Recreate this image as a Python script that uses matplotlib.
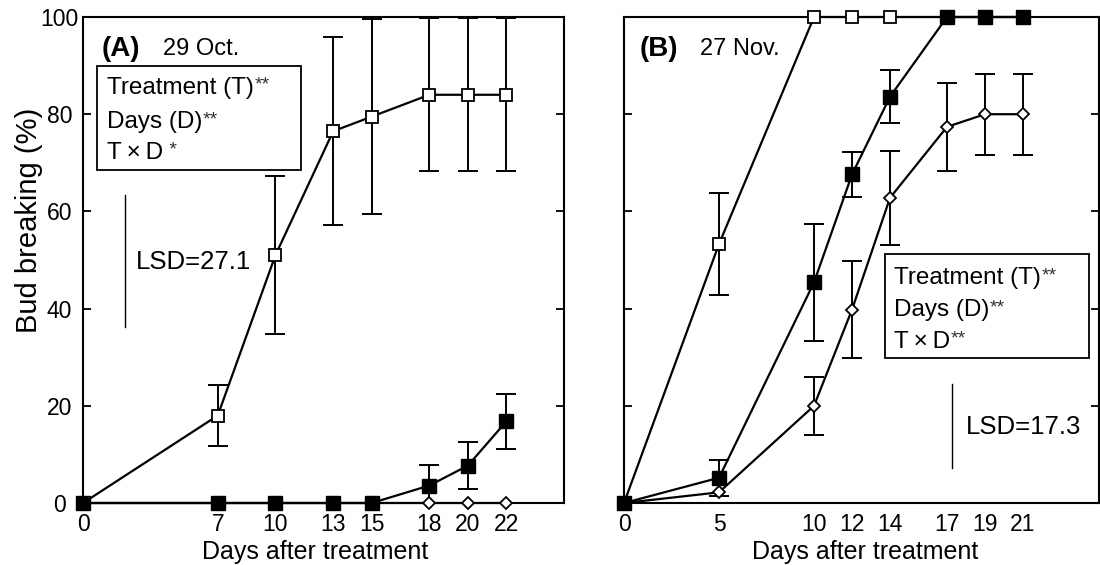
import matplotlib

matplotlib.use("Agg")
import matplotlib.pyplot as plt
from matplotlib.patches import Rectangle

plt.rcParams["font.family"] = ["Liberation Sans", "DejaVu Sans"]

# (A) 29 Oct.
days_a = [0, 7, 10, 13, 15, 18, 20, 22]
open_sq_a = [0, 18.0, 51.0, 76.5, 79.5, 84.0, 84.0, 84.0]
open_sq_a_err = [0, 6.3, 16.3, 19.3, 20.0, 15.7, 15.7, 15.7]
filled_sq_a = [0, 0, 0, 0, 0, 3.6, 7.7, 16.8]
filled_sq_a_err = [0, 0, 0, 0, 0, 4.2, 4.8, 5.6]
diamond_a = [0, 0, 0, 0, 0, 0, 0, 0]
diamond_a_err = [0, 0, 0, 0, 0, 0, 0, 0]

# (B) 27 Nov.
days_b = [0, 5, 10, 12, 14, 17, 19, 21]
open_sq_b = [0, 53.3, 100, 100, 100, 100, 100, 100]
open_sq_b_err = [0, 10.5, 0, 0, 0, 0, 0, 0]
filled_sq_b = [0, 5.2, 45.4, 67.6, 83.6, 100, 100, 100]
filled_sq_b_err = [0, 3.7, 12.0, 4.6, 5.4, 0, 0, 0]
diamond_b = [0, 2.2, 20.0, 39.8, 62.8, 77.4, 80.0, 80.0]
diamond_b_err = [0, 0, 6.0, 9.9, 9.7, 9.1, 8.3, 8.3]

stat_lines = ["Treatment (T)", "Days (D)", "T\u2009\u00d7\u2009D"]
stat_sups_a = ["**", "**", " *"]
stat_sups_b = ["**", "**", "**"]
lsd_a = 27.1
lsd_b = 17.3

STYLES = {
    "open_sq": dict(marker="s", ms=8, mfc="white", mec="black", mew=1.3, zorder=4),
    "filled_sq": dict(marker="s", ms=9.5, mfc="black", mec="black", mew=1.0, zorder=5),
    "diamond": dict(marker="D", ms=6.5, mfc="white", mec="black", mew=1.3, zorder=3),
}


def draw_series(ax, days, values, errors, style):
    pts = [(d, v, e) for d, v, e in zip(days, values, errors) if e > 0]
    if pts:
        xs, ys, es = zip(*pts)
        ax.errorbar(xs, ys, yerr=es, fmt="none", ecolor="black", elinewidth=1.4,
                    capsize=7, capthick=1.4, zorder=2)
    ax.plot(days, values, color="black", lw=1.6, clip_on=False, **STYLES[style])


def stat_box(ax, x0, y0, x1, y1, tx, ys, sups):
    ax.add_patch(Rectangle((x0, y0), x1 - x0, y1 - y0, fill=False, ec="black", lw=1.3, zorder=6))
    for line, sup, y in zip(stat_lines, sups, ys):
        t = ax.text(tx, y, line, fontsize=17.5, ha="left", va="center", zorder=7)
        ax.annotate(sup, xy=(1, 1.0), xycoords=t, xytext=(0.5, 0), textcoords="offset points",
                    fontsize=14, color="#333333", ha="left", va="top", zorder=7)


def style_axes(ax, days, show_ylabels):
    ax.set_xlim(0, 25)
    ax.set_ylim(0, 100)
    ax.set_xticks(days)
    ax.set_yticks([0, 20, 40, 60, 80, 100])
    ax.tick_params(axis="x", length=0, pad=7, labelsize=16.5)
    ax.tick_params(axis="y", direction="in", length=6, width=1.3, right=True,
                   labelleft=show_ylabels, labelsize=16.5, pad=17)
    for lab in ax.get_yticklabels():
        lab.set_horizontalalignment("center")
    for sp in ax.spines.values():
        sp.set_linewidth(1.5)


fig = plt.figure(figsize=(11, 5.65), dpi=100)
ax_a = fig.add_axes([0.0755, 0.1097, 0.4373, 0.8602])
ax_b = fig.add_axes([0.5673, 0.1097, 0.4318, 0.8602])

# panel A
draw_series(ax_a, days_a, diamond_a, diamond_a_err, "diamond")
draw_series(ax_a, days_a, open_sq_a, open_sq_a_err, "open_sq")
draw_series(ax_a, days_a, filled_sq_a, filled_sq_a_err, "filled_sq")
style_axes(ax_a, days_a, True)
ax_a.text(0.97, 93.5, "(A)", fontsize=20, fontweight="bold", ha="left", va="center")
ax_a.text(4.16, 93.5, "29 Oct.", fontsize=17, ha="left", va="center")
stat_box(ax_a, 0.74, 68.5, 11.33, 89.9, 1.23, [85.4, 78.4, 72.0], stat_sups_a)
ax_a.plot([2.18, 2.18], [36.3, 36.3 + lsd_a], color="black", lw=1.0)
ax_a.text(2.75, 49.5, f"LSD={lsd_a}", fontsize=18.5, ha="left", va="center")

# panel B
draw_series(ax_b, days_b, diamond_b, diamond_b_err, "diamond")
draw_series(ax_b, days_b, open_sq_b, open_sq_b_err, "open_sq")
draw_series(ax_b, days_b, filled_sq_b, filled_sq_b_err, "filled_sq")
style_axes(ax_b, days_b, False)
ax_b.text(0.84, 93.4, "(B)", fontsize=20, fontweight="bold", ha="left", va="center")
ax_b.text(4.0, 93.4, "27 Nov.", fontsize=17, ha="left", va="center")
stat_box(ax_b, 13.75, 29.8, 24.46, 51.2, 14.2, [46.3, 39.7, 33.2], stat_sups_b)
ax_b.plot([17.25, 17.25], [7.2, 7.2 + lsd_b], color="black", lw=1.0)
ax_b.text(18.0, 15.7, f"LSD={lsd_b}", fontsize=18.5, ha="left", va="center")

fig.text(29 / 1100, 1 - 220 / 565, "Bud breaking (%)", rotation=90, fontsize=21,
         ha="center", va="center")
fig.text(315 / 1100, 1 - 552 / 565, "Days after treatment", fontsize=18, ha="center", va="center")
fig.text(865 / 1100, 1 - 552 / 565, "Days after treatment", fontsize=18, ha="center", va="center")

fig.savefig("out.png", dpi=100)
